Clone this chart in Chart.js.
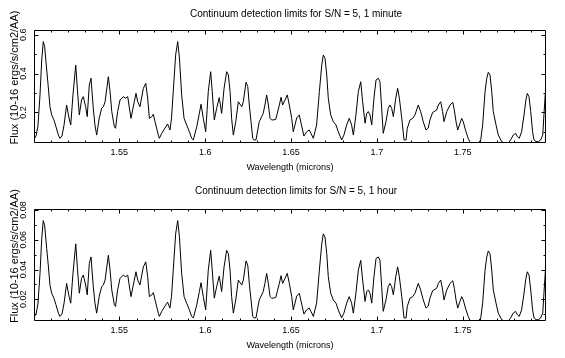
<!DOCTYPE html>
<html><head><meta charset="utf-8">
<script src="https://cdn.jsdelivr.net/npm/chart.js@4.4.1/dist/chart.umd.min.js"></script>
<style>
html,body{margin:0;padding:0;background:#fff;overflow:hidden;width:565px;height:358px;}
.p{position:absolute;left:0;width:592px;height:179px;}
</style></head><body>
<div class="p" style="top:0"><canvas id="c1" width="592" height="179"></canvas></div>
<div class="p" style="top:179px"><canvas id="c2" width="592" height="179"></canvas></div>
<script>
// ---- data ----
const wavelength = [1.5003,1.5015,1.5026,1.5038,1.5048,1.5057,1.5065,1.5077,1.5086,1.5096,
1.5106,1.5119,1.5131,1.5145,1.5154,1.5166,1.5178,1.5193,1.5207,1.5217,
1.5230,1.5246,1.5256,1.5267,1.5280,1.5290,1.5304,1.5313,1.5325,1.5335,
1.5348,1.5358,1.5368,1.5383,1.5397,1.5407,1.5417,1.5436,1.5446,1.5456,
1.5471,1.5478,1.5490,1.5504,1.5523,1.5537,1.5549,1.5556,1.5568,1.5587,
1.5597,1.5607,1.5620,1.5640,1.5654,1.5665,1.5675,1.5689,1.5698,1.5708,
1.5727,1.5733,1.5747,1.5766,1.5781,1.5795,1.5804,1.5814,1.5828,1.5840,
1.5850,1.5863,1.5877,1.5892,1.5908,1.5921,1.5931,1.5951,1.5966,1.5976,
1.5989,1.6003,1.6018,1.6032,1.6041,1.6053,1.6067,1.6082,1.6096,1.6110,
1.6125,1.6135,1.6145,1.6154,1.6164,1.6178,1.6193,1.6213,1.6222,1.6238,
1.6248,1.6257,1.6267,1.6277,1.6284,1.6296,1.6306,1.6315,1.6329,1.6338,
1.6348,1.6358,1.6368,1.6378,1.6387,1.6397,1.6411,1.6420,1.6432,1.6442,
1.6451,1.6465,1.6478,1.6490,1.6504,1.6513,1.6523,1.6533,1.6548,1.6562,
1.6575,1.6591,1.6606,1.6616,1.6630,1.6649,1.6665,1.6679,1.6688,1.6698,
1.6708,1.6717,1.6731,1.6746,1.6762,1.6775,1.6795,1.6808,1.6824,1.6839,
1.6853,1.6863,1.6878,1.6892,1.6906,1.6917,1.6931,1.6941,1.6950,1.6960,
1.6970,1.6983,1.6995,1.7008,1.7018,1.7028,1.7037,1.7053,1.7066,1.7076,
1.7086,1.7096,1.7110,1.7121,1.7131,1.7145,1.7158,1.7170,1.7177,1.7193,
1.7209,1.7222,1.7241,1.7255,1.7270,1.7286,1.7299,1.7309,1.7325,1.7348,
1.7358,1.7372,1.7383,1.7391,1.7407,1.7426,1.7442,1.7451,1.7461,1.7471,
1.7484,1.7494,1.7503,1.7519,1.7532,1.7542,1.7552,1.7591,1.7605,1.7616,
1.7630,1.7640,1.7649,1.7659,1.7669,1.7678,1.7694,1.7707,1.7727,1.7746,
1.7765,1.7779,1.7794,1.7808,1.7818,1.7829,1.7843,1.7857,1.7868,1.7876,
1.7886,1.7896,1.7907,1.7915,1.7927,1.7940,1.7954,1.7966,1.7973,1.7981,
1.7985];

const flux1min = [0.063,0.078,0.130,0.290,0.470,0.565,0.539,0.419,0.333,0.229,
0.187,0.161,0.126,0.083,0.066,0.078,0.135,0.238,0.171,0.135,
0.290,0.444,0.315,0.187,0.264,0.281,0.229,0.178,0.341,0.376,
0.223,0.135,0.083,0.171,0.221,0.229,0.255,0.384,0.307,0.204,
0.126,0.118,0.204,0.264,0.281,0.273,0.281,0.238,0.169,0.255,
0.298,0.255,0.229,0.324,0.350,0.273,0.169,0.178,0.190,0.152,
0.083,0.066,0.092,0.119,0.140,0.109,0.171,0.307,0.496,0.565,
0.481,0.290,0.169,0.135,0.100,0.066,0.058,0.126,0.195,0.242,
0.169,0.100,0.307,0.410,0.307,0.161,0.221,0.276,0.195,0.324,
0.410,0.393,0.307,0.169,0.083,0.152,0.255,0.229,0.255,0.355,
0.333,0.238,0.152,0.066,0.058,0.058,0.109,0.152,0.178,0.195,
0.238,0.290,0.238,0.169,0.161,0.161,0.164,0.195,0.238,0.278,
0.238,0.264,0.290,0.238,0.169,0.100,0.135,0.171,0.187,0.130,
0.078,0.100,0.109,0.092,0.066,0.135,0.307,0.444,0.496,0.479,
0.393,0.273,0.187,0.152,0.135,0.100,0.058,0.083,0.135,0.169,
0.135,0.083,0.187,0.307,0.358,0.255,0.144,0.195,0.204,0.187,
0.135,0.273,0.367,0.376,0.358,0.221,0.092,0.152,0.221,0.238,
0.221,0.178,0.273,0.324,0.273,0.169,0.058,0.058,0.118,0.161,
0.169,0.187,0.238,0.204,0.152,0.109,0.119,0.161,0.200,0.212,
0.238,0.255,0.204,0.152,0.204,0.238,0.252,0.212,0.152,0.109,
0.144,0.169,0.152,0.100,0.066,0.046,0.041,0.041,0.058,0.135,
0.307,0.376,0.407,0.393,0.307,0.204,0.135,0.083,0.049,0.041,
0.041,0.058,0.083,0.092,0.075,0.066,0.100,0.187,0.264,0.298,
0.281,0.204,0.100,0.058,0.049,0.049,0.058,0.083,0.187,0.298,
0.315];

const flux1hr = [0.0081,0.0101,0.0168,0.0374,0.0607,0.0729,0.0696,0.0541,0.0430,0.0296,
0.0241,0.0208,0.0163,0.0107,0.0085,0.0101,0.0174,0.0307,0.0221,0.0174,
0.0374,0.0573,0.0407,0.0241,0.0341,0.0363,0.0296,0.0230,0.0440,0.0485,
0.0288,0.0174,0.0107,0.0221,0.0285,0.0296,0.0329,0.0496,0.0396,0.0263,
0.0163,0.0152,0.0263,0.0341,0.0363,0.0352,0.0363,0.0307,0.0218,0.0329,
0.0385,0.0329,0.0296,0.0418,0.0452,0.0352,0.0218,0.0230,0.0245,0.0196,
0.0107,0.0085,0.0119,0.0154,0.0181,0.0141,0.0221,0.0396,0.0640,0.0729,
0.0621,0.0374,0.0218,0.0174,0.0129,0.0085,0.0075,0.0163,0.0252,0.0312,
0.0218,0.0129,0.0396,0.0529,0.0396,0.0208,0.0285,0.0356,0.0252,0.0418,
0.0529,0.0507,0.0396,0.0218,0.0107,0.0196,0.0329,0.0296,0.0329,0.0458,
0.0430,0.0307,0.0196,0.0085,0.0075,0.0075,0.0141,0.0196,0.0230,0.0252,
0.0307,0.0374,0.0307,0.0218,0.0208,0.0208,0.0212,0.0252,0.0307,0.0359,
0.0307,0.0341,0.0374,0.0307,0.0218,0.0129,0.0174,0.0221,0.0241,0.0168,
0.0101,0.0129,0.0141,0.0119,0.0085,0.0174,0.0396,0.0573,0.0640,0.0618,
0.0507,0.0352,0.0241,0.0196,0.0174,0.0129,0.0075,0.0107,0.0174,0.0218,
0.0174,0.0107,0.0241,0.0396,0.0462,0.0329,0.0186,0.0252,0.0263,0.0241,
0.0174,0.0352,0.0474,0.0485,0.0462,0.0285,0.0119,0.0196,0.0285,0.0307,
0.0285,0.0230,0.0352,0.0418,0.0352,0.0218,0.0075,0.0075,0.0152,0.0208,
0.0218,0.0241,0.0307,0.0263,0.0196,0.0141,0.0154,0.0208,0.0258,0.0274,
0.0307,0.0329,0.0263,0.0196,0.0263,0.0307,0.0325,0.0274,0.0196,0.0141,
0.0186,0.0218,0.0196,0.0129,0.0085,0.0059,0.0053,0.0053,0.0075,0.0174,
0.0396,0.0485,0.0525,0.0507,0.0396,0.0263,0.0174,0.0107,0.0063,0.0053,
0.0053,0.0075,0.0107,0.0119,0.0097,0.0085,0.0129,0.0241,0.0341,0.0385,
0.0363,0.0263,0.0129,0.0075,0.0063,0.0063,0.0075,0.0107,0.0241,0.0385,
0.0407];

const xTickLabels = [1.55, 1.6, 1.65, 1.7, 1.75];
const yTickLabels1 = [0.2, 0.4, 0.6];
const yTickLabels2 = [0.02, 0.04, 0.06, 0.08];

// ---- rendering ----
const FONT = "'Liberation Sans', Arial, sans-serif";
Chart.defaults.font.family = FONT;
Chart.defaults.color = '#000';

function range(a, b, step) { const out = []; for (let v = a; v <= b + 1e-9; v += step) out.push(+v.toFixed(4)); return out; }

const frameTicks = {
  id: 'frameTicks',
  afterLayout(chart, args, o) {
    // shift the y-axis title upward a little, as in the original plot
    const s = chart.scales.y;
    if (!s._shiftWrapped) {
      const orig = s.drawTitle.bind(s);
      s.drawTitle = function () { const c = chart.ctx; c.save(); c.translate(0, -o.yTitleShift); orig(); c.restore(); };
      s._shiftWrapped = true;
    }
  },
  afterDatasetsDraw(chart, args, o) {
    const {ctx, chartArea: a, scales: {x, y}} = chart;
    const L = Math.round(a.left) + 0.5, R = Math.round(a.right) - 0.5;
    const T = Math.round(a.top) + 0.5, B = Math.round(a.bottom) - 0.5;
    ctx.save();
    ctx.strokeStyle = '#000'; ctx.lineWidth = 1;
    ctx.beginPath();
    ctx.rect(L, T, R - L, B - T);
    const xt = (vals, len) => vals.forEach(v => {
      const p = Math.round(x.getPixelForValue(v)) + 0.5;
      if (p < L || p > R) return;
      ctx.moveTo(p, B); ctx.lineTo(p, B - len);
      ctx.moveTo(p, T); ctx.lineTo(p, T + len);
    });
    const yt = (vals, len) => vals.forEach(v => {
      const p = Math.round(y.getPixelForValue(v)) + 0.5;
      if (p < T || p > B) return;
      ctx.moveTo(L, p); ctx.lineTo(L + len, p);
      ctx.moveTo(R, p); ctx.lineTo(R - len, p);
    });
    xt(o.xMajor, 4); xt(o.xMinor, 2);
    yt(o.yMajor, 4); yt(o.yMinor, 2);
    ctx.stroke();
    ctx.restore();
  }
};

function makeChart(id, values, cfg) {
  const pts = wavelength.map((w, i) => ({x: w, y: values[i]}));
  return new Chart(document.getElementById(id), {
    type: 'line',
    data: { datasets: [{ data: pts, borderColor: '#000', borderWidth: 1, pointRadius: 0, tension: 0, fill: false }] },
    plugins: [frameTicks],
    options: {
      responsive: false, animation: false, events: [],
      layout: { padding: 0 },
      scales: {
        x: {
          type: 'linear', position: 'bottom', min: 1.5003, max: 1.7985,
          afterBuildTicks: s => { s.ticks = xTickLabels.map(v => ({value: v})); },
          ticks: { autoSkip: false, minRotation: 0, maxRotation: 0, padding: 4, font: {size: 9}, color: '#000', callback: v => String(v) },
          grid: { display: false, drawTicks: false }, border: { display: false },
          title: { display: true, text: 'Wavelength (microns)', font: {size: 9}, color: '#000', padding: {top: 0, bottom: cfg.xtPad} },
          afterFit: s => { s.height = cfg.xh; }
        },
        y: {
          type: 'linear', position: 'left', min: cfg.ymin, max: cfg.ymax,
          afterBuildTicks: s => { s.ticks = cfg.yTicks.map(v => ({value: v})); },
          ticks: { autoSkip: false, minRotation: 90, maxRotation: 90, crossAlign: 'center', padding: cfg.ylPad, font: {size: 9}, color: '#000', callback: v => String(v) },
          grid: { display: false, drawTicks: false }, border: { display: false },
          title: { display: true, text: 'Flux (10-16 ergs/s/cm2/AA)', font: {size: 11}, color: '#000', padding: {top: 8.4, bottom: 0} },
          afterFit: s => { s.width = 34; }
        },
        yr: {
          type: 'linear', position: 'right', display: true,
          ticks: { display: false }, grid: { display: false, drawTicks: false }, border: { display: false },
          afterFit: s => { s.width = 46; }
        }
      },
      plugins: {
        legend: { display: false }, tooltip: { enabled: false },
        title: { display: true, text: cfg.title, color: '#000', font: {size: 10, weight: 'normal'}, padding: {top: cfg.tTop, bottom: cfg.tBot} },
        frameTicks: { xMajor: xTickLabels, xMinor: range(1.51, 1.79, 0.01), yMajor: cfg.yTicks, yMinor: cfg.yMinor, yTitleShift: 9 }
      }
    }
  });
}

makeChart('c1', flux1min, {
  title: 'Continuum detection limits for S/N = 5, 1 minute',
  ymin: 0.042, ymax: 0.625, yTicks: yTickLabels1, yMinor: [0.1, 0.3, 0.5],
  xh: 36, xtPad: 6, ylPad: 4, tTop: 8, tBot: 10
});
makeChart('c2', flux1hr, {
  title: 'Continuum detection limits for S/N = 5, 1 hour',
  ymin: 0.00542, ymax: 0.0807, yTicks: yTickLabels2, yMinor: [0.01, 0.03, 0.05, 0.07],
  xh: 37, xtPad: 7, ylPad: 1.5, tTop: 6, tBot: 12
});
</script>
</body></html>
